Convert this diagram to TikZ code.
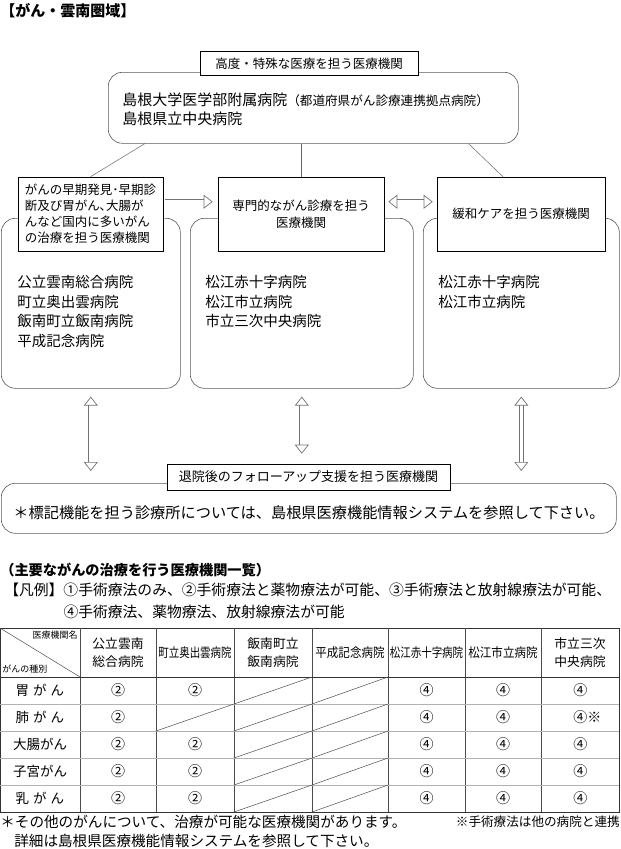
\documentclass[tikz,border=0pt]{standalone}
\usepackage{fontspec}
\setmainfont{Noto Sans CJK JP}
\usetikzlibrary{arrows.meta,positioning,calc}
\newcommand{\fsz}[2]{\fontsize{#1}{#2}\selectfont}

\begin{document}
\begin{tikzpicture}[
      x=1pt,y=-1pt,line width=0.6pt,
      htip/.tip = {Triangle[open,width=14pt,length=9pt]},
      rbox/.style = {draw=black!65,rounded corners=14pt,inner sep=0,anchor=north west},
      lbox/.style = {draw=black,fill=white,inner sep=0,align=center,font=\fsz{12.5}{17}},
      hlist/.style = {anchor=north west,align=left,inner sep=0,font=\fsz{14.5}{19.7}},
      link/.style = {draw=black!60,line width=0.5pt},
      hollow/.style = {draw=black!55,double=white,double distance=3.6pt,line width=0.7pt},
      head/.style = {align=center,inner sep=0,font=\fsz{12.8}{18}},
      cellnum/.style = {inner sep=0,font=\fsz{14}{16}}
    ]
      \useasboundingbox (0,0) rectangle (621,849);

      \node (title)[anchor=north west,inner sep=0,font=\bfseries\fsz{15}{18}] at (0,3) {【がん・雲南圏域】};

      % top
      \node (topbox)[rbox,minimum width=410pt,minimum height=71pt] at (108,72) {};
      \node (toplabel)[lbox,minimum width=218pt,minimum height=24pt] at (309,63.5) {高度・特殊な医療を担う医療機関};
      \node (toptext)[anchor=north west,align=left,inner sep=0,font=\fsz{15}{19}] at (122,93)
        {島根大学医学部附属病院{\fsz{12.6}{19}（都道府県がん診療連携拠点病院）}\\島根県立中央病院};

      % three groups
      \node (ebox)[rbox,minimum width=179pt,minimum height=170pt] at (1,218) {};
      \node (sbox)[rbox,minimum width=223pt,minimum height=170pt] at (190,218) {};
      \node (pbox)[rbox,minimum width=196pt,minimum height=170pt] at (423,218) {};

      \node (elabel)[lbox,minimum width=145pt,minimum height=74pt,align=left,font=\fsz{12.5}{16}] at (90.5,214)
        {がんの早期発見･早期診\\断及び胃がん､大腸が\\んなど国内に多いがん\\の治療を担う医療機関};
      \node (slabel)[lbox,minimum width=166pt,minimum height=74pt] at (301,214) {専門的ながん診療を担う\\医療機関};
      \node (plabel)[lbox,minimum width=168pt,minimum height=74pt] at (521,214) {緩和ケアを担う医療機関};

      \node (elist)[hlist] at (17,275) {公立雲南総合病院\\町立奥出雲病院\\飯南町立飯南病院\\平成記念病院};
      \node (slist)[hlist] at (205,275) {松江赤十字病院\\松江市立病院\\市立三次中央病院};
      \node (plist)[hlist] at (438,275) {松江赤十字病院\\松江市立病院};

      \draw[link] (topbox.192) -- (elabel.north);
      \draw[link] (slabel.north) -- (slabel.north |- topbox.south);
      \draw[link] (topbox.347) -- ($(plabel.north)+(-18,0)$);

      \draw[hollow,-htip,shorten <=2pt,shorten >=5pt] ([yshift=-25pt]elabel.north east) -- ([yshift=-25pt]slabel.north west);
      \draw[hollow,htip-htip,shorten <=4pt,shorten >=4pt] ([yshift=-25pt]slabel.north east) -- ([yshift=-25pt]plabel.north west);

      % follow-up
      \node (bbox)[rbox,minimum width=615pt,minimum height=50pt] at (1,483) {};
      \node (blabel)[lbox,minimum width=283pt,minimum height=26pt,font=\fsz{13}{16}] at (308.5,477) {退院後のフォローアップ支援を担う医療機関};
      \node (bnote)[inner sep=0,font=\fsz{15.2}{18}] at (309,513) {＊標記機能を担う診療所については、島根県医療機能情報システムを参照して下さい。};

      \draw[hollow,htip-htip,shorten <=8pt,shorten >=12pt] (ebox.south) -- (ebox.south |- bbox.north);
      \draw[hollow,htip-htip,shorten <=8pt,shorten >=10pt] (sbox.south) -- (sbox.south |- blabel.north);
      \draw[hollow,htip-htip,shorten <=8pt,shorten >=12pt] (pbox.south) -- (pbox.south |- bbox.north);

      % list of hospitals
      \node (ttl2)[anchor=west,inner sep=0,font=\bfseries\fsz{14.2}{17}] at (0,570) {（主要ながんの治療を行う医療機関一覧）};
      \node (legend)[anchor=north west,align=left,inner sep=0,font=\fsz{14.8}{22}] at (4,583)
        {【凡例】①手術療法のみ、②手術療法と薬物療法が可能、③手術療法と放射線療法が可能、\\\hspace{4em}④手術療法、薬物療法、放射線療法が可能};

      % table
      \draw[black!80] (0,628) rectangle (619,812);
      \foreach \x in {80,156,234,312,388,465,541}
        \draw[black!70,line width=0.5pt] (\x,628) -- (\x,812);
      \draw[black!80,line width=0.5pt] (0,677) -- (619,677);
      \foreach \y in {704,731,758,785}
        \draw[gray!60,line width=0.9pt] (0,\y) -- (619,\y);
      \draw[black!70,line width=0.5pt] (0,628) -- (80,677);
      \foreach \r in {0,...,4} {
        \pgfmathsetmacro{\yt}{677+27*\r}
        \pgfmathsetmacro{\yb}{\yt+27}
        \draw[black!70,line width=0.5pt] (234,\yb) -- (312,\yt) (312,\yb) -- (388,\yt);
      }
      \draw[black!70,line width=0.5pt] (156,731) -- (234,704);

      \node (hcol)[anchor=north east,inner sep=1pt,font=\fsz{9}{10}] at (79,630) {医療機関名};
      \node (hrow)[anchor=south west,inner sep=1pt,font=\fsz{9}{10}] at (1,675) {がんの種別};
      \node (h1)[head] at (118,653) {公立雲南\\総合病院};
      \node (h2)[head] at (195,653) {\scalebox{0.82}[1]{町立奥出雲病院}};
      \node (h3)[head] at (273,653) {飯南町立\\飯南病院};
      \node (h4)[head] at (350,653) {\scalebox{0.9}[1]{平成記念病院}};
      \node (h5)[head] at (426.5,653) {\scalebox{0.82}[1]{松江赤十字病院}};
      \node (h6)[head] at (503,653) {\scalebox{0.9}[1]{松江市立病院}};
      \node (h7)[head] at (580,653) {市立三次\\中央病院};

      \foreach \kind/\a/\b/\g [count=\r from 0] in {胃\hspace{4pt}が\hspace{4pt}ん/②/②/④, 肺\hspace{4pt}が\hspace{4pt}ん/②//④※, 大腸がん/②/②/④, 子宮がん/②/②/④, 乳\hspace{4pt}が\hspace{4pt}ん/②/②/④} {
        \pgfmathsetmacro{\yc}{690.5+27*\r}
        \node (kind\r)[inner sep=0,font=\fsz{13.5}{16}] at (40,\yc) {\kind};
        \node (ka\r)[cellnum] at (118,\yc) {\a};
        \node (kb\r)[cellnum] at (195,\yc) {\b};
        \node (ke\r)[cellnum] at (426.5,\yc) {④};
        \node (kf\r)[cellnum] at (503,\yc) {④};
        \node (kg\r)[cellnum,anchor=west] at (573,\yc) {\g};
      }

      \node (foot1)[anchor=west,inner sep=0,font=\fsz{14.6}{18}] at (0,822) {＊その他のがんについて、治療が可能な医療機関があります。};
      \node (foot2)[anchor=west,inner sep=0,font=\fsz{14.6}{18}] at (14,841) {詳細は島根県医療機能情報システムを参照して下さい。};
      \node (foot3)[anchor=east,inner sep=0,font=\fsz{12.6}{15}] at (620,822) {※手術療法は他の病院と連携};
    \end{tikzpicture}
\end{document}
